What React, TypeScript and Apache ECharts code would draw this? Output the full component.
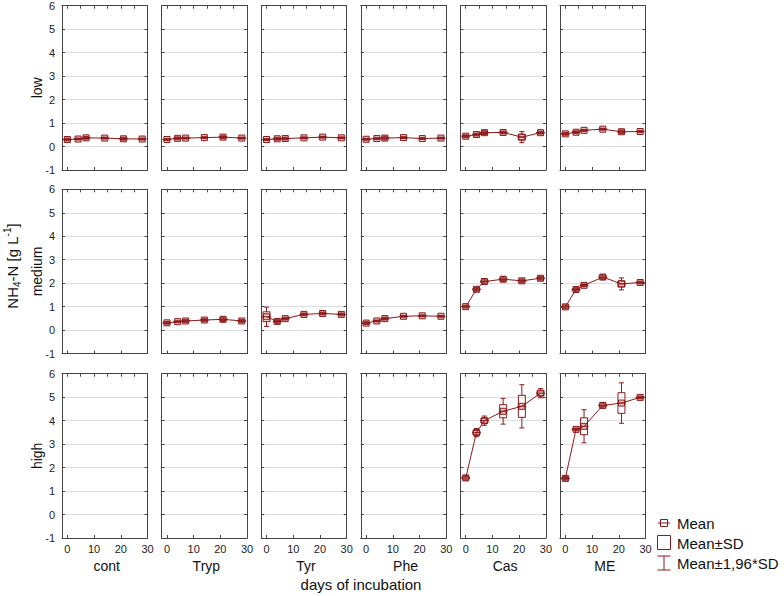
import React, { useEffect, useRef } from 'react';
import * as echarts from 'echarts';

// ---------- data ----------
const days = [0, 4, 7, 14, 21, 28];
const treatments = ['cont', 'Tryp', 'Tyr', 'Phe', 'Cas', 'ME'];
const levels = ['low', 'medium', 'high'];
const xBottomTicks = [0, 10, 20, 30];
const xTopTicks = [0, 5, 10, 15, 20, 25, 30];

// means per treatment (cont, Tryp, Tyr, Phe, Cas, ME)
const lowMeans: (number[] | null)[] = [
  [0.30, 0.32, 0.37, 0.36, 0.33, 0.32],
  [0.30, 0.35, 0.36, 0.38, 0.40, 0.36],
  [0.30, 0.33, 0.34, 0.37, 0.40, 0.37],
  [0.31, 0.34, 0.36, 0.38, 0.34, 0.36],
  [0.44, 0.51, 0.59, 0.60, 0.40, 0.59],
  [0.54, 0.61, 0.69, 0.74, 0.63, 0.64],
];
const lowSD: (number[] | null)[] = [
  [0.03, 0.02, 0.03, 0.02, 0.03, 0.02],
  [0.02, 0.03, 0.02, 0.02, 0.03, 0.02],
  [0.02, 0.03, 0.03, 0.02, 0.02, 0.02],
  [0.02, 0.02, 0.04, 0.02, 0.02, 0.02],
  [0.03, 0.03, 0.04, 0.03, 0.12, 0.03],
  [0.03, 0.03, 0.02, 0.02, 0.04, 0.02],
];
const mediumMeans: (number[] | null)[] = [
  null,
  [0.31, 0.36, 0.39, 0.43, 0.46, 0.39],
  [0.57, 0.37, 0.49, 0.67, 0.71, 0.67],
  [0.30, 0.39, 0.49, 0.59, 0.61, 0.59],
  [1.00, 1.74, 2.07, 2.17, 2.10, 2.21],
  [0.99, 1.73, 1.91, 2.26, 1.97, 2.03],
];
const mediumSD: (number[] | null)[] = [
  null,
  [0.03, 0.02, 0.03, 0.03, 0.05, 0.03],
  [0.21, 0.04, 0.03, 0.03, 0.03, 0.03],
  [0.03, 0.02, 0.03, 0.02, 0.02, 0.02],
  [0.03, 0.04, 0.06, 0.05, 0.04, 0.04],
  [0.04, 0.05, 0.03, 0.05, 0.13, 0.03],
];
const highMeans: (number[] | null)[] = [
  null, null, null, null,
  [1.56, 3.49, 4.00, 4.40, 4.61, 5.17],
  [1.54, 3.63, 3.76, 4.65, 4.75, 4.99],
];
const highSD: (number[] | null)[] = [
  null, null, null, null,
  [0.05, 0.09, 0.10, 0.28, 0.47, 0.10],
  [0.04, 0.03, 0.36, 0.06, 0.44, 0.03],
];

const allMeans = [lowMeans, mediumMeans, highMeans];
const allSD = [lowSD, mediumSD, highSD];

// ---------- layout / style ----------
const COLOR = '#8b1a1a';
const FONT = 'Liberation Sans, Arial, sans-serif';
const LEFT0 = 62;
const COL_STEP = 99.6;
const PW = 85.5;
const TOPS = [5.7, 189.3, 373.7];
const PH = 164.3;

function renderErr(params: any, api: any) {
  const x = api.value(0);
  const m = api.value(1);
  const sd = api.value(2);
  const c = api.coord([x, m]);
  const t = api.coord([x, m + sd])[1];
  const b = api.coord([x, m - sd])[1];
  const wt = api.coord([x, m + 1.96 * sd])[1];
  const wb = api.coord([x, m - 1.96 * sd])[1];
  const cx = c[0];
  const cy = c[1];
  const st = { stroke: COLOR, lineWidth: 1, fill: null };
  return {
    type: 'group',
    children: [
      { type: 'line', shape: { x1: cx, y1: wt, x2: cx, y2: t }, style: st },
      { type: 'line', shape: { x1: cx, y1: b, x2: cx, y2: wb }, style: st },
      { type: 'line', shape: { x1: cx - 2.5, y1: wt, x2: cx + 2.5, y2: wt }, style: st },
      { type: 'line', shape: { x1: cx - 2.5, y1: wb, x2: cx + 2.5, y2: wb }, style: st },
      { type: 'rect', shape: { x: cx - 3.5, y: t, width: 7, height: b - t }, style: { stroke: COLOR, lineWidth: 1, fill: 'rgba(255,255,255,0)' } },
      { type: 'rect', shape: { x: cx - 3, y: cy - 3, width: 6, height: 6 }, style: { stroke: COLOR, lineWidth: 1, fill: 'rgba(180,60,60,0.3)' } },
      { type: 'line', shape: { x1: cx - 4.5, y1: cy, x2: cx + 4.5, y2: cy }, style: st },
    ],
  };
}

function buildOption() {
  const grid: any[] = [];
  const xAxis: any[] = [];
  const yAxis: any[] = [];
  const series: any[] = [];
  const axisLineStyle = { color: '#444', width: 1 };
  levels.forEach((lvl, r) => {
    treatments.forEach((tr, c) => {
      const gi = r * treatments.length + c;
      grid.push({ left: LEFT0 + c * COL_STEP, top: TOPS[r], width: PW, height: PH });
      xAxis.push({
        gridIndex: gi, type: 'value', min: -2, max: 30, position: 'bottom',
        axisLine: { show: true, onZero: false, lineStyle: axisLineStyle },
        axisTick: { show: true, inside: true, length: 3, customValues: xBottomTicks, lineStyle: axisLineStyle },
        axisLabel: { show: r === 2, customValues: xBottomTicks, fontSize: 11, color: '#222', fontFamily: FONT, margin: 5 },
        splitLine: { show: false },
      });
      xAxis.push({
        gridIndex: gi, type: 'value', min: -2, max: 30, position: 'top',
        axisLine: { show: true, onZero: false, lineStyle: axisLineStyle },
        axisTick: { show: true, inside: true, length: 3, customValues: xTopTicks, lineStyle: axisLineStyle },
        axisLabel: { show: false },
        splitLine: { show: false },
      });
      yAxis.push({
        gridIndex: gi, type: 'value', min: -1, max: 6, interval: 1, position: 'left',
        axisLine: { show: true, onZero: false, lineStyle: axisLineStyle },
        axisTick: { show: true, inside: true, length: 3, lineStyle: axisLineStyle },
        axisLabel: { show: c === 0, fontSize: 11, color: '#222', fontFamily: FONT, margin: 7 },
        splitLine: { show: true, lineStyle: { color: '#dedede', width: 1 } },
      });
      yAxis.push({
        gridIndex: gi, type: 'value', min: -1, max: 6, interval: 1, position: 'right',
        axisLine: { show: true, onZero: false, lineStyle: axisLineStyle },
        axisTick: { show: true, inside: true, length: 3, lineStyle: axisLineStyle },
        axisLabel: { show: false },
        splitLine: { show: false },
      });
      const means = allMeans[r][c];
      const sds = allSD[r][c];
      if (means && sds) {
        series.push({
          type: 'line', xAxisIndex: gi * 2, yAxisIndex: gi * 2,
          data: days.map((d, i) => [d, means[i]]),
          showSymbol: false, symbol: 'none',
          lineStyle: { color: COLOR, width: 1 },
          silent: true,
        });
        series.push({
          type: 'custom', xAxisIndex: gi * 2, yAxisIndex: gi * 2,
          data: days.map((d, i) => [d, means[i], sds[i]]),
          renderItem: renderErr,
          silent: true,
        });
      }
    });
  });

  const graphic: any[] = [];
  const txt = (text: string, x: number, y: number, size: number, rot = 0, align = 'center') => ({
    type: 'text', x, y, rotation: rot,
    style: { text, fontSize: size, fontFamily: FONT, fill: '#111', align, verticalAlign: 'middle' },
  });
  // row labels
  levels.forEach((lvl, r) => {
    graphic.push(txt(lvl, 37, TOPS[r] + PH / 2, 14, Math.PI / 2));
  });
  // column labels
  treatments.forEach((tr, c) => {
    graphic.push(txt(tr, LEFT0 + c * COL_STEP + PW / 2 + 2, 566, 14));
  });
  graphic.push(txt('days of incubation', 361, 584, 15));
  // y title
  graphic.push({
    type: 'text', x: 12, y: 266, rotation: Math.PI / 2,
    style: {
      text: '{a|NH}{s|4}{a|-N [g L}{p|-1}{a|]}',
      fontFamily: FONT, fill: '#111', align: 'center', verticalAlign: 'middle',
      rich: {
        a: { fontSize: 15, fontFamily: FONT, lineHeight: 20, fill: '#111' },
        s: { fontSize: 10, fontFamily: FONT, lineHeight: 10, verticalAlign: 'bottom', fill: '#111' },
        p: { fontSize: 10, fontFamily: FONT, lineHeight: 10, verticalAlign: 'top', fill: '#111' },
      },
    },
  });
  // legend
  const lx = 664;
  const ls = { stroke: COLOR, lineWidth: 1, fill: null };
  graphic.push({ type: 'rect', shape: { x: lx - 3.5, y: 519.5, width: 7, height: 7 }, style: { stroke: COLOR, lineWidth: 1, fill: '#fff' } });
  graphic.push({ type: 'line', shape: { x1: lx - 6, y1: 523, x2: lx + 6, y2: 523 }, style: ls });
  graphic.push({ type: 'rect', shape: { x: lx - 6.5, y: 535.5, width: 13, height: 14 }, style: { stroke: COLOR, lineWidth: 1, fill: '#fff' } });
  graphic.push({ type: 'line', shape: { x1: lx - 6.5, y1: 556, x2: lx + 6.5, y2: 556 }, style: ls });
  graphic.push({ type: 'line', shape: { x1: lx, y1: 556, x2: lx, y2: 570 }, style: ls });
  graphic.push({ type: 'line', shape: { x1: lx - 6.5, y1: 570, x2: lx + 6.5, y2: 570 }, style: ls });
  graphic.push(txt('Mean', 677, 523, 15, 0, 'left'));
  graphic.push(txt('Mean±SD', 677, 543, 15, 0, 'left'));
  graphic.push(txt('Mean±1,96*SD', 677, 563, 15, 0, 'left'));

  return {
    animation: false,
    backgroundColor: '#fff',
    textStyle: { fontFamily: FONT },
    grid, xAxis, yAxis, series, graphic,
  };
}

export default function App() {
  const ref = useRef<HTMLDivElement>(null);
  useEffect(() => {
    if (!ref.current) return;
    const chart = echarts.init(ref.current, undefined, { renderer: 'svg' });
    chart.setOption(buildOption() as any);
    return () => chart.dispose();
  }, []);
  return (
    <div
      ref={ref}
      style={{ position: 'absolute', left: 0, top: 0, width: 784, height: 596, background: '#fff' }}
    />
  );
}
